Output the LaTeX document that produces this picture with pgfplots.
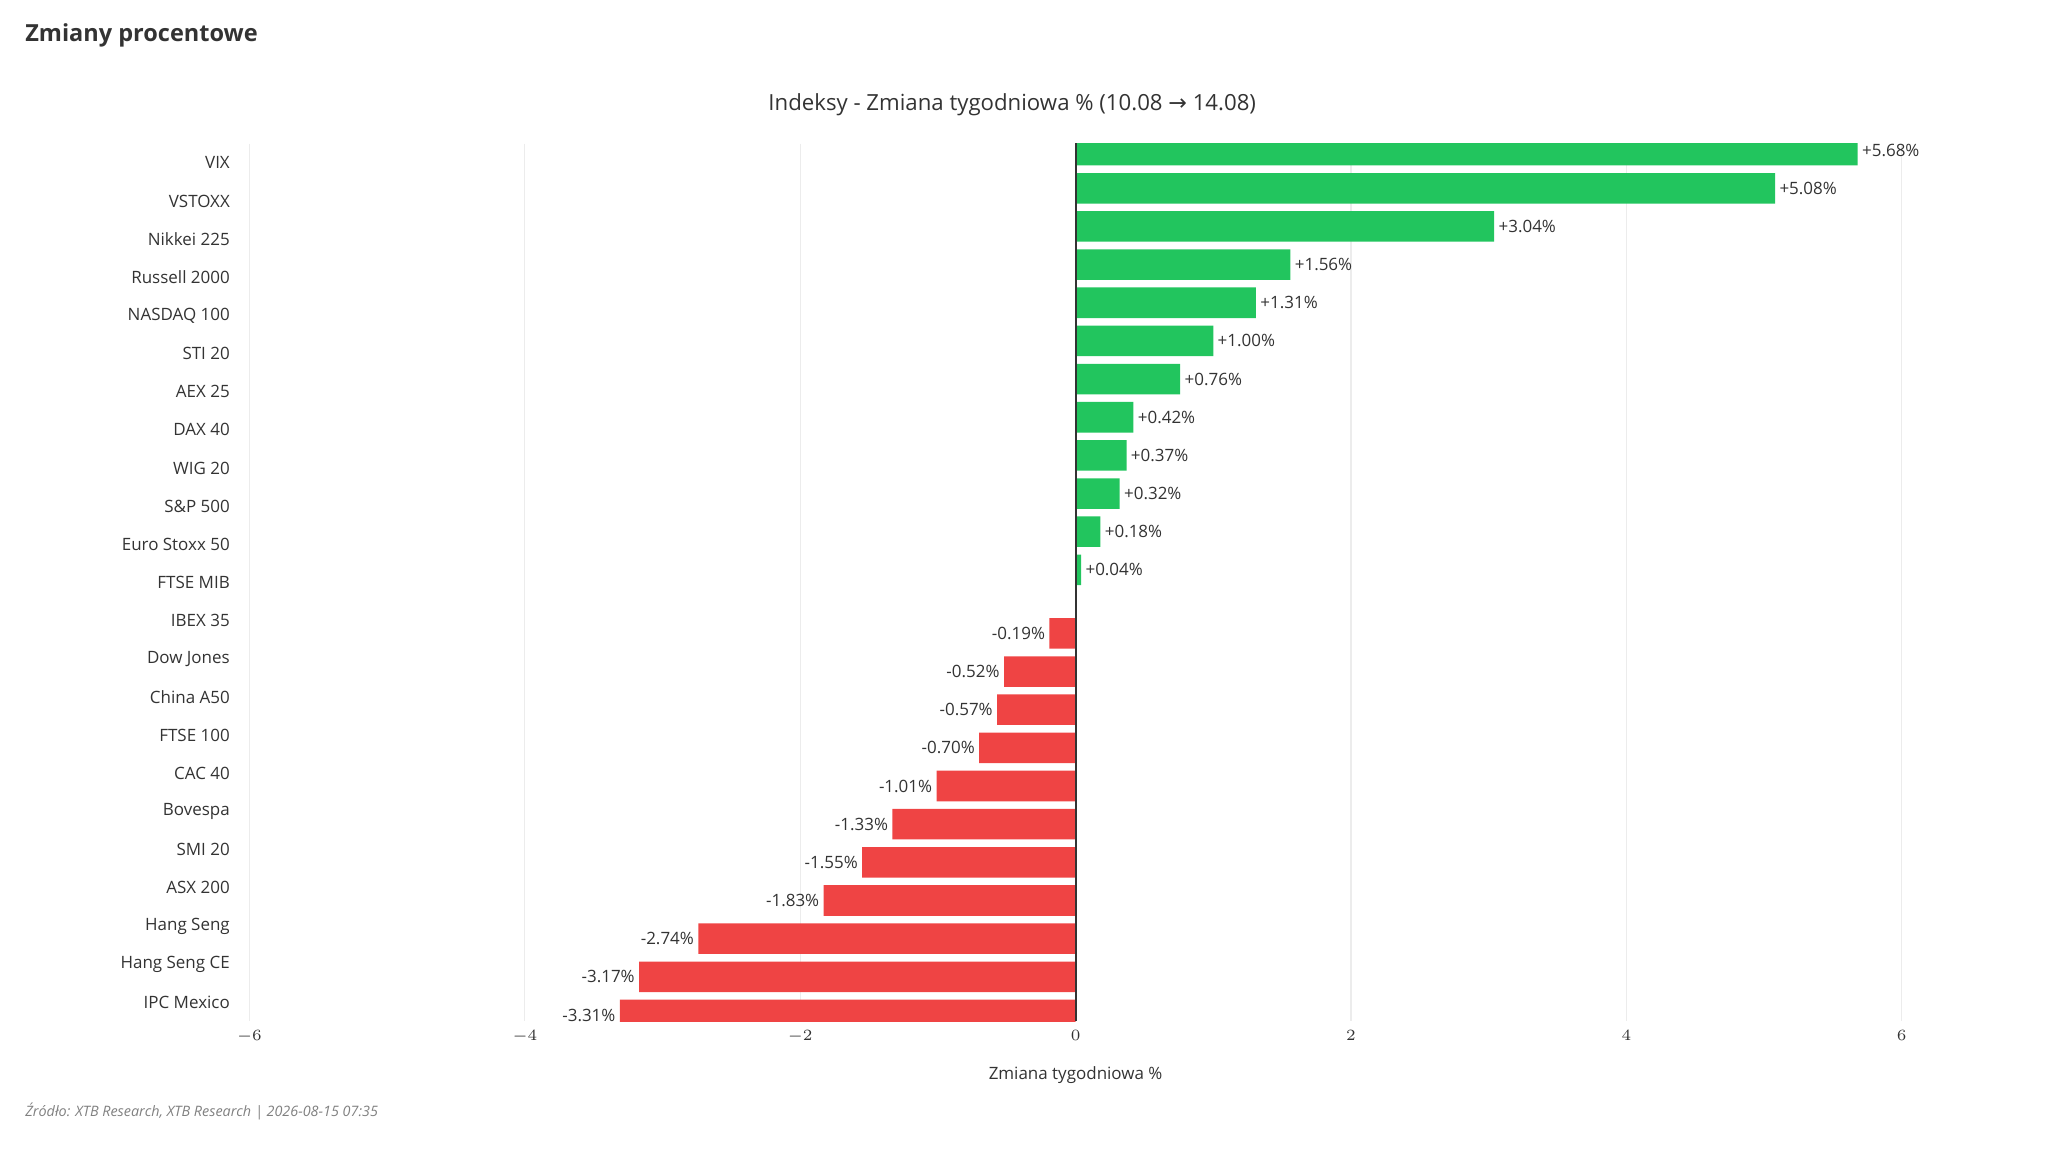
\documentclass[border=0pt]{standalone}
\usepackage{pgfplots}
\usepackage{pgfplotstable}
\pgfplotsset{compat=1.18}
\usepackage{fontspec}
\setmainfont{Open Sans}
\newfontfamily\dejavu{DejaVu Sans}
\definecolor{gr}{HTML}{22C55E}
\definecolor{rd}{HTML}{EF4444}
\definecolor{txt}{HTML}{333333}
\pgfplotstableread{
y v lab
0 5.68 +5.68\%
1 5.08 +5.08\%
2 3.04 +3.04\%
3 1.56 +1.56\%
4 1.31 +1.31\%
5 1.00 +1.00\%
6 0.76 +0.76\%
7 0.42 +0.42\%
8 0.37 +0.37\%
9 0.32 +0.32\%
10 0.18 +0.18\%
11 0.04 +0.04\%
}\pos
\pgfplotstableread{
y v lab
12 -0.19 -0.19\%
13 -0.52 -0.52\%
14 -0.57 -0.57\%
15 -0.70 -0.70\%
16 -1.01 -1.01\%
17 -1.33 -1.33\%
18 -1.55 -1.55\%
19 -1.83 -1.83\%
20 -2.74 -2.74\%
21 -3.17 -3.17\%
22 -3.31 -3.31\%
}\neg
\begin{document}
\begin{tikzpicture}
\path (0,0) rectangle (784pt,440pt);
\node[anchor=north west,font=\bfseries\fontsize{9}{11}\selectfont,text=txt,inner sep=0] at (9.5pt,431pt) {Zmiany procentowe};
\node[font=\fontsize{8.5}{10}\selectfont,text=txt] at (387.5pt,400pt) {Indeksy - Zmiana tygodniowa \% (10.08 {\dejavu→} 14.08)};
\node[font=\fontsize{6.5}{8}\selectfont,text=txt] at (411.75pt,28.5pt) {Zmiana tygodniowa \%};
\node[anchor=west,font=\itshape\fontsize{5.5}{7}\selectfont,text=gray,inner sep=0] at (9.5pt,14.5pt) {Źródło: XTB Research, XTB Research | 2026-08-15 07:35};
\begin{axis}[at={(95.5pt,49pt)},anchor=south west,scale only axis,
 width=632.5pt,height=336pt,
 xmin=-6,xmax=6,ymin=-0.5,ymax=22.5,y dir=reverse,
 xbar,bar width=0.8,
 axis line style={draw=none},
 major tick length=0pt,
 xmajorgrids,grid style={draw=gray!15},
 xtick={-6,-4,...,6},
 ytick={0,...,22},
 yticklabels={VIX,VSTOXX,Nikkei 225,Russell 2000,NASDAQ 100,STI 20,AEX 25,DAX 40,WIG 20,S\&P 500,Euro Stoxx 50,FTSE MIB,IBEX 35,Dow Jones,China A50,FTSE 100,CAC 40,Bovespa,SMI 20,ASX 200,Hang Seng,Hang Seng CE,IPC Mexico},
 tick label style={font=\fontsize{6.5}{8}\selectfont,text=txt},
 yticklabel style={xshift=-4pt},
 point meta=explicit symbolic,
 nodes near coords={\pgfplotspointmeta},
 nodes near coords style={font=\fontsize{6.5}{8}\selectfont,text=txt,inner sep=1.5pt},
]
\addplot[fill=gr,draw=none,nodes near coords style={anchor=west}] table[x=v,y=y,meta=lab]{\pos};
\addplot[fill=rd,draw=none,nodes near coords style={anchor=east}] table[x=v,y=y,meta=lab]{\neg};
\draw[black!80,line width=0.8pt] (axis cs:0,-0.7) -- (axis cs:0,22.5);
\end{axis}
\end{tikzpicture}
\end{document}
